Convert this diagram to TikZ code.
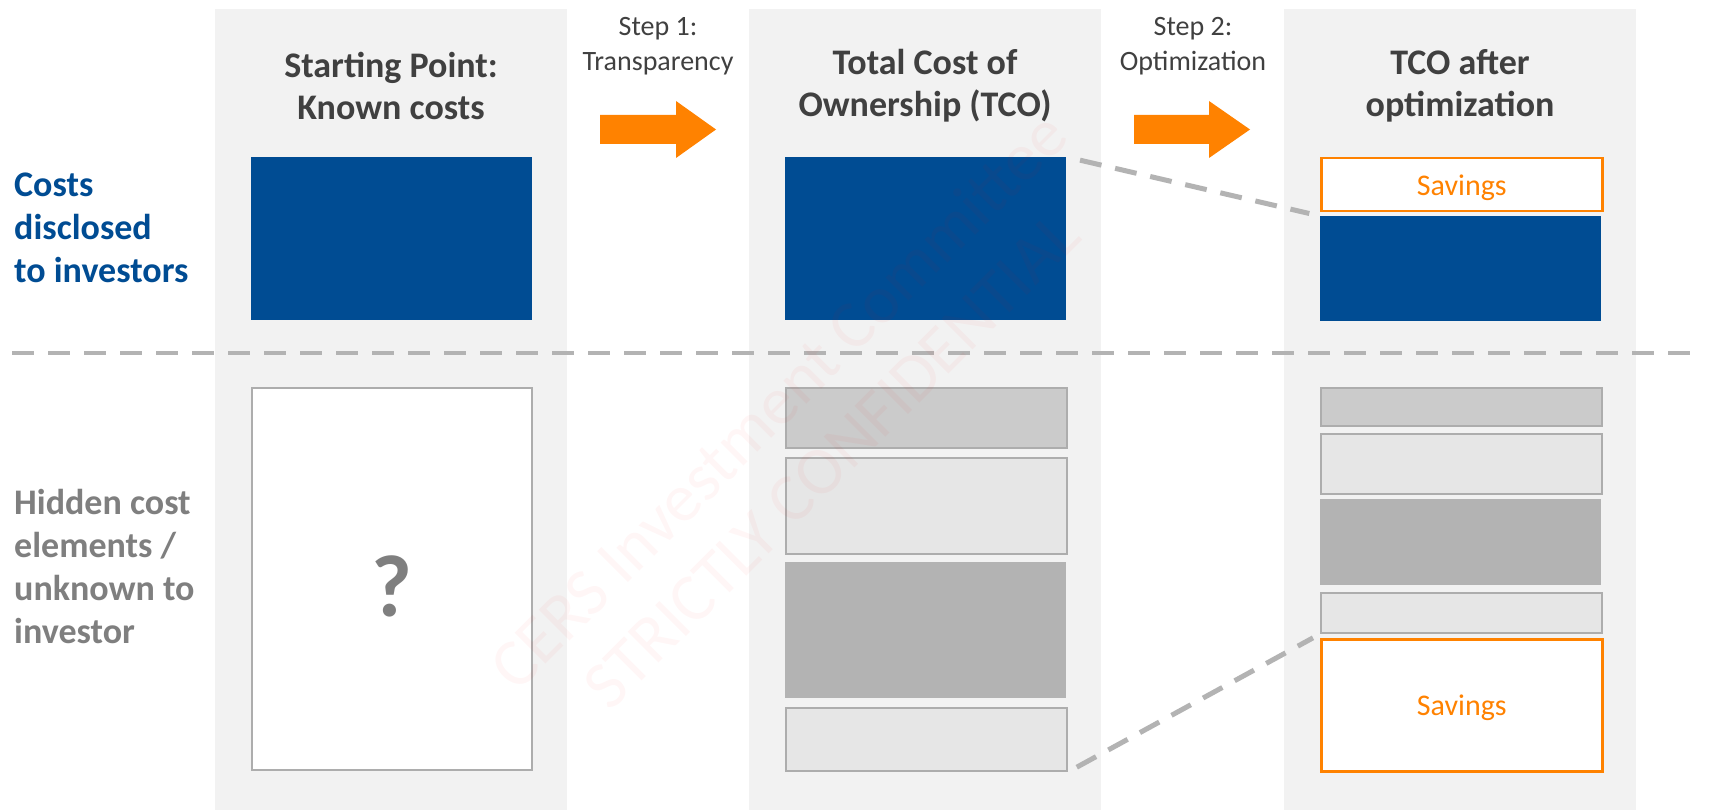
\documentclass[tikz,border=0pt]{standalone}
\usepackage{fontspec}
\setmainfont{Carlito}
\usetikzlibrary{calc}
\definecolor{bgcol}{HTML}{F2F2F2}
\definecolor{tblue}{HTML}{004C93}
\definecolor{torange}{HTML}{FF8200}
\definecolor{tgray}{HTML}{404040}
\definecolor{lgray}{HTML}{7F7F7F}
\definecolor{dgray}{HTML}{B3B3B3}
\definecolor{bordg}{HTML}{ADADAD}
\definecolor{fa}{HTML}{CBCBCB}
\definecolor{fb}{HTML}{E6E6E6}
\definecolor{fc}{HTML}{B3B3B3}
\newcommand\myfs[2]{\fontsize{#1}{#2}\selectfont}
\begin{document}
\begin{tikzpicture}[x=1pt,y=-1pt,
  colbg/.style={fill=bgcol, draw=none, anchor=north west, inner sep=0, minimum width=352},
  bx/.style={anchor=north west, inner sep=0, minimum width=281},
  bluebox/.style={bx, fill=tblue},
  graybox/.style={bx, draw=bordg, line width=2},
  savbox/.style={bx, fill=white, draw=torange, line width=2.5, text=torange, font=\myfs{30}{36}, text depth=0pt},
  title/.style={align=center, text=tgray, font=\bfseries\myfs{36}{42}, inner sep=0},
  steptxt/.style={align=center, text=tgray, font=\myfs{28}{35}, inner sep=0},
  sidelbl/.style={align=left, anchor=west, font=\bfseries\myfs{36}{43}, inner sep=0},
  dashln/.style={draw=dgray, line width=5, dash pattern=on 22pt off 14pt},
  blockarrow/.style={fill=torange, draw=none},
  wmark/.style={text=red, text opacity=0.035, font=\myfs{68}{80}, rotate=45, inner sep=0}
]
\useasboundingbox (0,0) rectangle (1712,810);
\fill[white] (0,0) rectangle (1712,810);

% column backgrounds
\node[colbg, minimum height=801] (c1) at (215,9) {};
\node[colbg, minimum height=801] (c2) at (749,9) {};
\node[colbg, minimum height=801] (c3) at (1284,9) {};

% titles
\node[title] (t1) at (391,86) {Starting Point:\\Known costs};
\node[title] (t2) at (925,86) {Total Cost of\\Ownership (TCO)};
\node[title] (t3) at (1460,86) {TCO after\\optimization};

% step labels
\node[steptxt] (s1) at (658,46) {Step 1:\\Transparency};
\node[steptxt] (s2) at (1193,46) {Step 2:\\Optimization};

% block arrows
\fill[blockarrow] (600,115) -- (676,115) -- (676,101) -- (716,129.5) -- (676,158) -- (676,144) -- (600,144) -- cycle;
\fill[blockarrow] (1134,115) -- (1209,115) -- (1209,101) -- (1250,129.5) -- (1209,158) -- (1209,144) -- (1134,144) -- cycle;

% side labels
\node[sidelbl, text=tblue] (l1) at (14,228) {Costs\\disclosed\\to investors};
\node[sidelbl, text=lgray] (l2) at (14,566) {Hidden cost\\elements /\\unknown to\\investor};

% upper row
\node[bluebox, minimum height=163] (b1) at (251,157) {};
\node[bluebox, minimum height=163] (b2) at (785,157) {};
\node[savbox, minimum height=53] (sv1) at (1320,157) {Savings};
\node[bluebox, minimum height=105] (b3) at (1320,216) {};

% separator
\coordinate (hl) at (12,353);
\coordinate (hr) at (1700,353);
\draw[dashln, line width=4.5] (hl) -- (hr);

% lower row, column 1
\node[graybox, fill=white, minimum width=280, minimum height=382] (q) at (251,387) {};
\node[text=lgray, font=\bfseries\myfs{88}{90}, inner sep=0] (qm) at ($(q.center)+(0,7)$) {?};

% lower row, column 2
\node[graybox, fill=fa, minimum height=60] (m1) at (785,387) {};
\node[graybox, fill=fb, minimum height=96] (m2) at (785,457) {};
\node[bx, fill=fc, minimum height=136] (m3) at (785,562) {};
\node[graybox, fill=fb, minimum height=63] (m4) at (785,707) {};

% lower row, column 3
\node[graybox, fill=fa, minimum height=38] (r1) at (1320,387) {};
\node[graybox, fill=fb, minimum height=60] (r2) at (1320,433) {};
\node[bx, fill=fc, minimum height=86] (r3) at (1320,499) {};
\node[graybox, fill=fb, minimum height=40] (r4) at (1320,592) {};
\node[savbox, minimum height=132] (sv2) at (1320,638) {Savings};

% connectors
\draw[dashln, shorten <=14pt, shorten >=11pt] (b2.north east) -- (b3.north west);
\draw[dashln, shorten <=10pt, shorten >=8pt] (m4.south east) -- (r4.south west);

% watermark
\node[wmark] (w1) at (778,400) {CERS Investment Committee};
\node[wmark] (w2) at (832,460) {STRICTLY CONFIDENTIAL};
\end{tikzpicture}
\end{document}
